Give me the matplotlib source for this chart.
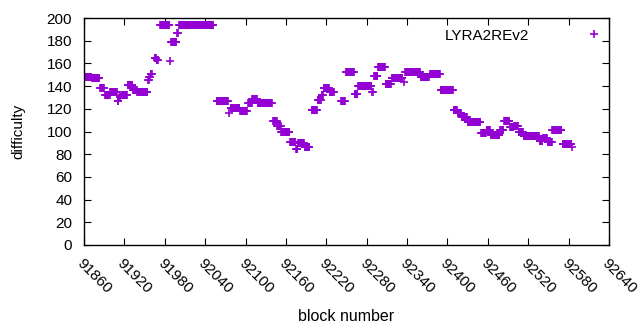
import numpy as np
import matplotlib
matplotlib.use("Agg")
import matplotlib.pyplot as plt

plt.rcParams['font.family'] = ['Liberation Sans', 'DejaVu Sans']

# runs of consecutive blocks with the same difficulty: first block, last block, difficulty
RUN_START = [91858, 91872, 91884, 91891, 91899, 91910, 91913, 91916, 91925, 91933,
             91939, 91955, 91957, 91959, 91965, 91968, 91973, 91988, 91989, 91998,
             92001, 92057, 92075, 92078, 92092, 92104, 92110, 92118, 92141, 92147,
             92153, 92166, 92175, 92178, 92188, 92198, 92207, 92213, 92216, 92225,
             92242, 92249, 92262, 92267, 92288, 92291, 92297, 92308, 92317, 92335,
             92337, 92360, 92374, 92390, 92409, 92415, 92421, 92430, 92450, 92458,
             92464, 92478, 92484, 92493, 92499, 92506, 92513, 92537, 92542, 92549,
             92556, 92571, 92585]
RUN_END = [91871, 91883, 91889, 91898, 91909, 91911, 91914, 91924, 91932, 91938,
           91954, 91956, 91958, 91961, 91967, 91970, 91987, 91988, 91997, 91999,
           92052, 92074, 92075, 92091, 92102, 92109, 92117, 92139, 92146, 92152,
           92165, 92174, 92177, 92187, 92195, 92206, 92212, 92215, 92224, 92231,
           92248, 92261, 92266, 92287, 92289, 92296, 92307, 92316, 92333, 92335,
           92359, 92372, 92389, 92408, 92414, 92420, 92429, 92449, 92457, 92463,
           92477, 92483, 92492, 92498, 92505, 92512, 92536, 92541, 92548, 92555,
           92569, 92584, 92585]
RUN_DIFF = [148, 147, 138, 132, 135, 127, 130, 132, 141, 137,
            135, 145, 148, 151, 165, 163, 194, 162, 179, 187,
            194, 127, 116, 121, 118, 125, 129, 125, 109, 105,
            100, 91, 85, 90, 86, 119, 128, 132, 138, 135,
            127, 152, 133, 140, 135, 149, 157, 142, 147, 144,
            152, 148, 151, 137, 119, 116, 113, 108, 99, 101,
            97, 101, 109, 104, 105, 100, 96, 92, 94, 91,
            101, 89, 86]

XTICKS = list(range(91860, 92641, 60))
YTICKS = list(range(0, 201, 20))

blocks = []
diffs = []
for s, e, d in zip(RUN_START, RUN_END, RUN_DIFF):
    for b in range(s, e + 1):
        blocks.append(b)
        diffs.append(d)

fig = plt.figure(figsize=(6.4, 3.3), dpi=100)
ax = fig.add_axes([84 / 640, 1 - 245 / 330, (609 - 84) / 640, (245 - 18) / 330])

ax.plot(blocks, diffs, linestyle='none', marker='+', color='#9400d3',
        markersize=5.8, markeredgewidth=1.2, label='LYRA2REv2')

ax.set_xlim(91860, 92640)
ax.set_ylim(0, 200)
ax.set_xticks(XTICKS)
ax.set_yticks(YTICKS)
ax.set_xticklabels([str(t) for t in XTICKS], rotation=-45, ha='left', va='top',
                   rotation_mode='anchor')
ax.tick_params(direction='in', top=True, right=True, length=5, labelsize=11)
ax.tick_params(axis='x', pad=8)
ax.tick_params(axis='y', pad=8.5)
for sp in ax.spines.values():
    sp.set_linewidth(1.0)

ax.set_xlabel('block number', fontsize=11.5, labelpad=9)
ax.set_ylabel('difficulty', fontsize=11, labelpad=15)

ax.legend(loc='upper right', bbox_to_anchor=(1.042, 1.0), frameon=False,
          markerfirst=False, fontsize=11, handlelength=3.5, handletextpad=2.5,
          borderaxespad=0.3)

fig.savefig('out.png', dpi=100)
